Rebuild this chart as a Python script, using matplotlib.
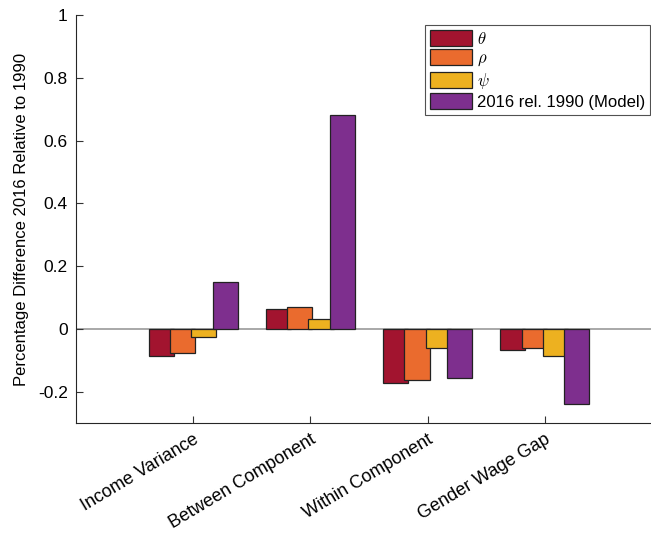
import numpy as np
import matplotlib
matplotlib.use("Agg")
import matplotlib.pyplot as plt
import matplotlib.transforms as mtransforms

plt.rcParams["font.family"] = ["Liberation Sans", "DejaVu Sans"]
plt.rcParams["axes.unicode_minus"] = False
plt.rcParams["mathtext.fontset"] = "cm"

categories = ["Income Variance", "Between Component", "Within Component", "Gender Wage Gap"]
series_names = [r"$\theta$", r"$\rho$", r"$\psi$", "2016 rel. 1990 (Model)"]
theta = [-0.085, 0.064, -0.172, -0.067]
rho = [-0.078, 0.070, -0.164, -0.060]
psi = [-0.025, 0.032, -0.060, -0.085]
model = [0.150, 0.680, -0.156, -0.238]
yticks = [-0.2, 0, 0.2, 0.4, 0.6, 0.8, 1]
ytick_labels = ["-0.2", "0", "0.2", "0.4", "0.6", "0.8", "1"]

colors = ["#A2142F", "#EA6B2E", "#EDB120", "#7E2F8E"]

fig = plt.figure(figsize=(6.51, 5.35), dpi=100)
ax = fig.add_axes([76 / 651, 1 - 423 / 535, 586 / 651, 408 / 535])

x = np.arange(1, len(categories) + 1)
step = 0.182
width = 0.215
offsets = (np.arange(4) - 1.5) * step
ax.axhline(0, color="#999999", lw=1.2, zorder=1)
for i, (vals, name) in enumerate(zip([theta, rho, psi, model], series_names)):
    ax.bar(x + offsets[i], vals, width=width, color=colors[i], edgecolor="#222222",
           linewidth=0.9, label=name, zorder=2)

ax.set_xlim(0, 5)
ax.set_ylim(-0.3, 1)
ax.set_yticks(yticks)
ax.set_yticklabels(ytick_labels, fontsize=12.5)
ax.set_xticks(x)
ax.set_xticklabels(categories, rotation=31, ha="right", rotation_mode="anchor", fontsize=13)
shift = mtransforms.ScaledTranslation(7 / 100, 0, fig.dpi_scale_trans)
for lab in ax.get_xticklabels():
    lab.set_transform(lab.get_transform() + shift)
ax.tick_params(direction="in", length=5, width=0.8, color="#333333", pad=6)
ax.tick_params(axis="x", pad=6)
for s in ["top", "right"]:
    ax.spines[s].set_visible(False)
for s in ["left", "bottom"]:
    ax.spines[s].set_color("#262626")
    ax.spines[s].set_linewidth(0.8)
ax.set_ylabel("Percentage Difference 2016 Relative to 1990", fontsize=12, labelpad=6)

leg = ax.legend(loc="upper right", bbox_to_anchor=(650 / 651, 1 - 25 / 535),
                bbox_transform=fig.transFigure, fontsize=12, frameon=True,
                fancybox=False, handlelength=2.5, handleheight=1.1,
                handletextpad=0.3, labelspacing=0.15, borderpad=0.3,
                borderaxespad=0)
leg.get_frame().set_edgecolor("#262626")
leg.get_frame().set_linewidth(0.8)

fig.savefig("out.png", dpi=100)
